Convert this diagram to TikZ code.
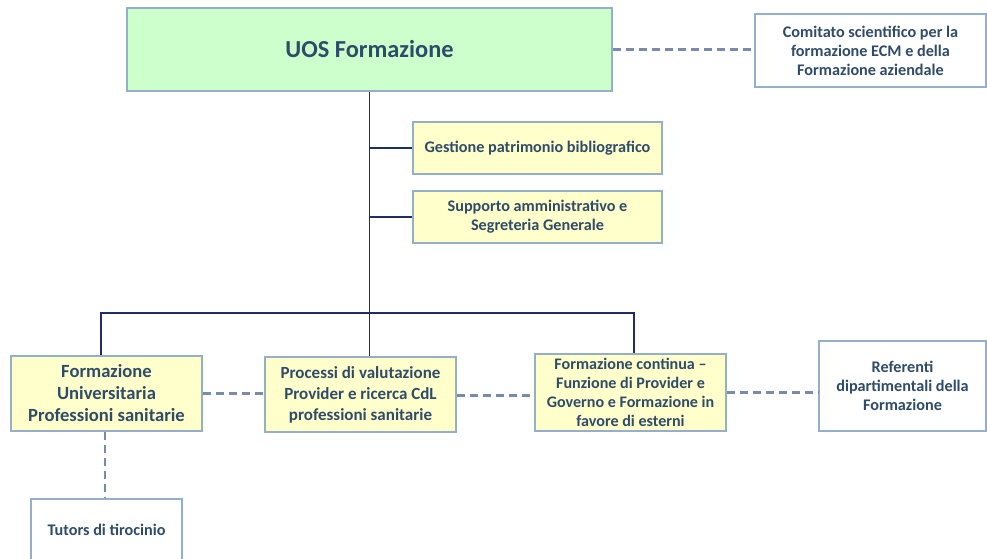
\documentclass[tikz,border=0pt]{standalone}
\usepackage{fontspec}
\setmainfont{Carlito}
\definecolor{boxline}{HTML}{95AECB}
\definecolor{txt}{HTML}{2F4B6A}
\definecolor{solidline}{HTML}{1F2F66}
\definecolor{dashline}{HTML}{7A8AAA}
\definecolor{greenfill}{HTML}{CCFFCC}
\definecolor{yellowfill}{HTML}{FFFFCC}
\begin{document}
\begin{tikzpicture}[x=1pt,y=-1pt,
  unit/.style={draw=boxline, line width=1.6pt, inner sep=0pt, align=center,
    text=txt, font=\bfseries\fontsize{16.2}{19}\selectfont},
  headbox/.style={unit, fill=greenfill, font=\bfseries\fontsize{24.4}{28}\selectfont},
  subbox/.style={unit, fill=yellowfill},
  extbox/.style={unit, fill=white},
  tree/.style={draw=solidline, line width=1.8pt},
  link/.style={draw=dashline, line width=2.4pt, dash pattern=on 8pt off 5pt}]
\useasboundingbox (0,0) rectangle (987,558);

% main unit
\node[headbox, minimum width=485pt, minimum height=83pt] (uos) at (369.5,49.5) {UOS Formazione};
\node[extbox, minimum width=231pt, minimum height=73pt] (com) at (870.5,50.5)
  {Comitato scientifico per la\\formazione ECM e della\\Formazione aziendale};

% staff offices
\node[subbox, minimum width=249pt, minimum height=52pt] (ges) at (537.5,148) {Gestione patrimonio bibliografico};
\node[subbox, minimum width=249pt, minimum height=52pt] (sup) at (537.5,217) {Supporto amministrativo e\\Segreteria Generale};

% line offices
\node[subbox, font=\bfseries\fontsize{18.6}{22}\selectfont, minimum width=191pt, minimum height=75pt] (fu) at (106.5,393.5)
  {Formazione\\Universitaria\\Professioni sanitarie};
\node[subbox, font=\bfseries\fontsize{17}{21}\selectfont, minimum width=191pt, minimum height=75pt] (proc) at (360.5,394.5)
  {Processi di valutazione\\Provider e ricerca CdL\\professioni sanitarie};
\node[subbox, font=\bfseries\fontsize{16.1}{19}\selectfont, minimum width=191pt, minimum height=77pt] (fc) at (630.5,392.5)
  {Formazione continua --\\Funzione di Provider e\\Governo e Formazione in\\favore di esterni};
\node[extbox, minimum width=167pt, minimum height=90pt] (ref) at (902.5,386)
  {Referenti\\dipartimentali della\\Formazione};
\node[extbox, minimum width=151pt, minimum height=62pt] (tut) at (106.5,530) {Tutors di tirocinio};

% hierarchy
\coordinate (bus) at (369,313);
\draw[tree] (uos.south) -- (uos.south |- proc.north);
\draw[tree] (uos.south |- ges.west) -- (ges.west);
\draw[tree] (uos.south |- sup.west) -- (sup.west);
\draw[tree] ([xshift=-5.5pt]fu.north) |- (bus) -| ([xshift=3.5pt]fc.north);

% functional links
\draw[link] (uos.east) -- (uos.east -| com.west);
\draw[link] (fu.east) -- (fu.east -| proc.west);
\draw[link] ([yshift=-1pt]proc.east) -- ([yshift=-1pt]proc.east -| fc.west);
\draw[link] (fc.east) -- (fc.east -| ref.west);
\draw[link] ([xshift=-1.5pt]fu.south) -- ([xshift=-1.5pt]fu.south |- tut.north);
\end{tikzpicture}
\end{document}
